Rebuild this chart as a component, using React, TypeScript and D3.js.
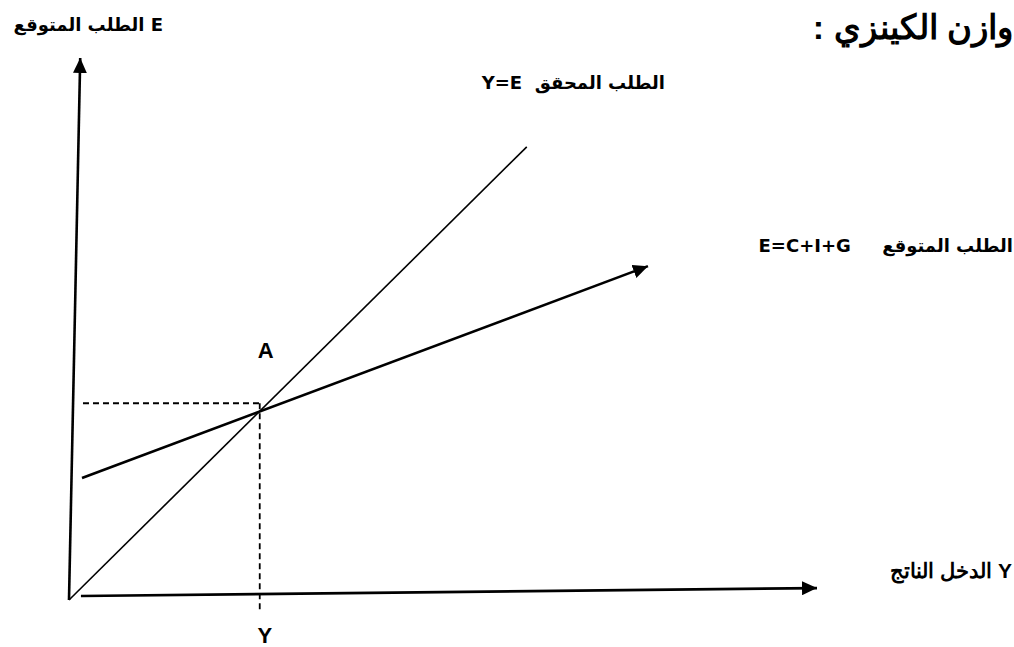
import React from "react";
import * as d3 from "d3";

// Diagram data in abstract units (0..100 on both axes)
const yAxisLine: [number, number][] = [[0, 0], [1.5, 100]];
const xAxisLine: [number, number][] = [[1.6, 0.74], [100, 2.2]];
const realizedDemand: [number, number][] = [[0, 0], [61.2, 83.6]];
const expectedDemand: [number, number][] = [[1.74, 22.5], [77.4, 61.6]];
const equilibrium: [number, number] = [25.5, 36.3];
const dashedH: [number, number][] = [[1.87, 36.3], [25.5, 36.3]];
const dashedV: [number, number][] = [[25.5, 36.3], [25.5, -1.85]];

const titleText = "وازن الكينزي :";
const yAxisLabel = "E الطلب المتوقع";
const xAxisLabel = "Y الدخل الناتج";
const realizedLabel = "الطلب المحقق  Y=E";
const expectedLabel = "الطلب المتوقع     E=C+I+G";
const pointLabel = "A";
const equilibriumLabel = "Y";

const W = 1014;
const H = 647;

export default function App() {
  const x = d3.scaleLinear().domain([0, 100]).range([69, 817]);
  const y = d3.scaleLinear().domain([0, 100]).range([600, 58]);
  const line = d3
    .line<[number, number]>()
    .x((d) => x(d[0]))
    .y((d) => y(d[1]));

  const arabicFont = "'DejaVu Sans', 'Noto Sans', sans-serif";
  const latinFont = "'Liberation Sans', Arial, sans-serif";
  const pre = { whiteSpace: "pre" as const };

  return (
    <svg
      width={W}
      height={H}
      style={{ position: "absolute", left: 0, top: 0, background: "#fff" }}
    >
      <defs>
        <marker
          id="arrow"
          viewBox="0 0 15 14"
          refX={15}
          refY={7}
          markerWidth={15}
          markerHeight={14}
          markerUnits="userSpaceOnUse"
          orient="auto"
        >
          <path d="M0,0 L15,7 L0,14 Z" fill="#000" />
        </marker>
      </defs>

      {/* axes */}
      <path d={line(yAxisLine) || ""} stroke="#000" strokeWidth={2.6} fill="none" markerEnd="url(#arrow)" />
      <path d={line(xAxisLine) || ""} stroke="#000" strokeWidth={2.6} fill="none" markerEnd="url(#arrow)" />

      {/* Y = E */}
      <path d={line(realizedDemand) || ""} stroke="#000" strokeWidth={1.6} fill="none" />
      {/* E = C + I + G */}
      <path d={line(expectedDemand) || ""} stroke="#000" strokeWidth={2.6} fill="none" markerEnd="url(#arrow)" />

      {/* dashed guides */}
      <path d={line(dashedH) || ""} stroke="#000" strokeWidth={1.8} strokeDasharray="6,4" fill="none" />
      <path d={line(dashedV) || ""} stroke="#000" strokeWidth={1.8} strokeDasharray="6,4" fill="none" />

      {/* title */}
      <text
        x={1013}
        y={39}
        direction="rtl"
        textAnchor="start"
        fontFamily={latinFont}
        fontWeight="bold"
        fontSize={34}
      >
        {titleText}
      </text>

      <text x={163} y={31} direction="rtl" textAnchor="start" fontFamily={arabicFont} fontWeight="bold" fontSize={18}>
        {yAxisLabel}
      </text>

      <text x={665} y={89} direction="rtl" textAnchor="start" fontFamily={arabicFont} fontWeight="bold" fontSize={18} style={pre}>
        {realizedLabel}
      </text>

      <text x={1013} y={252} direction="rtl" textAnchor="start" fontFamily={arabicFont} fontWeight="bold" fontSize={18} style={pre}>
        {expectedLabel}
      </text>

      <text x={1012} y={578} direction="rtl" textAnchor="start" fontFamily={latinFont} fontWeight="bold" fontSize={21}>
        {xAxisLabel}
      </text>

      <text
        x={x(equilibrium[0]) + 6}
        y={358}
        textAnchor="middle"
        fontFamily={latinFont}
        fontWeight="bold"
        fontSize={22}
      >
        {pointLabel}
      </text>
      <text
        x={x(equilibrium[0]) + 5}
        y={643}
        textAnchor="middle"
        fontFamily={latinFont}
        fontWeight="bold"
        fontSize={22}
      >
        {equilibriumLabel}
      </text>
    </svg>
  );
}
